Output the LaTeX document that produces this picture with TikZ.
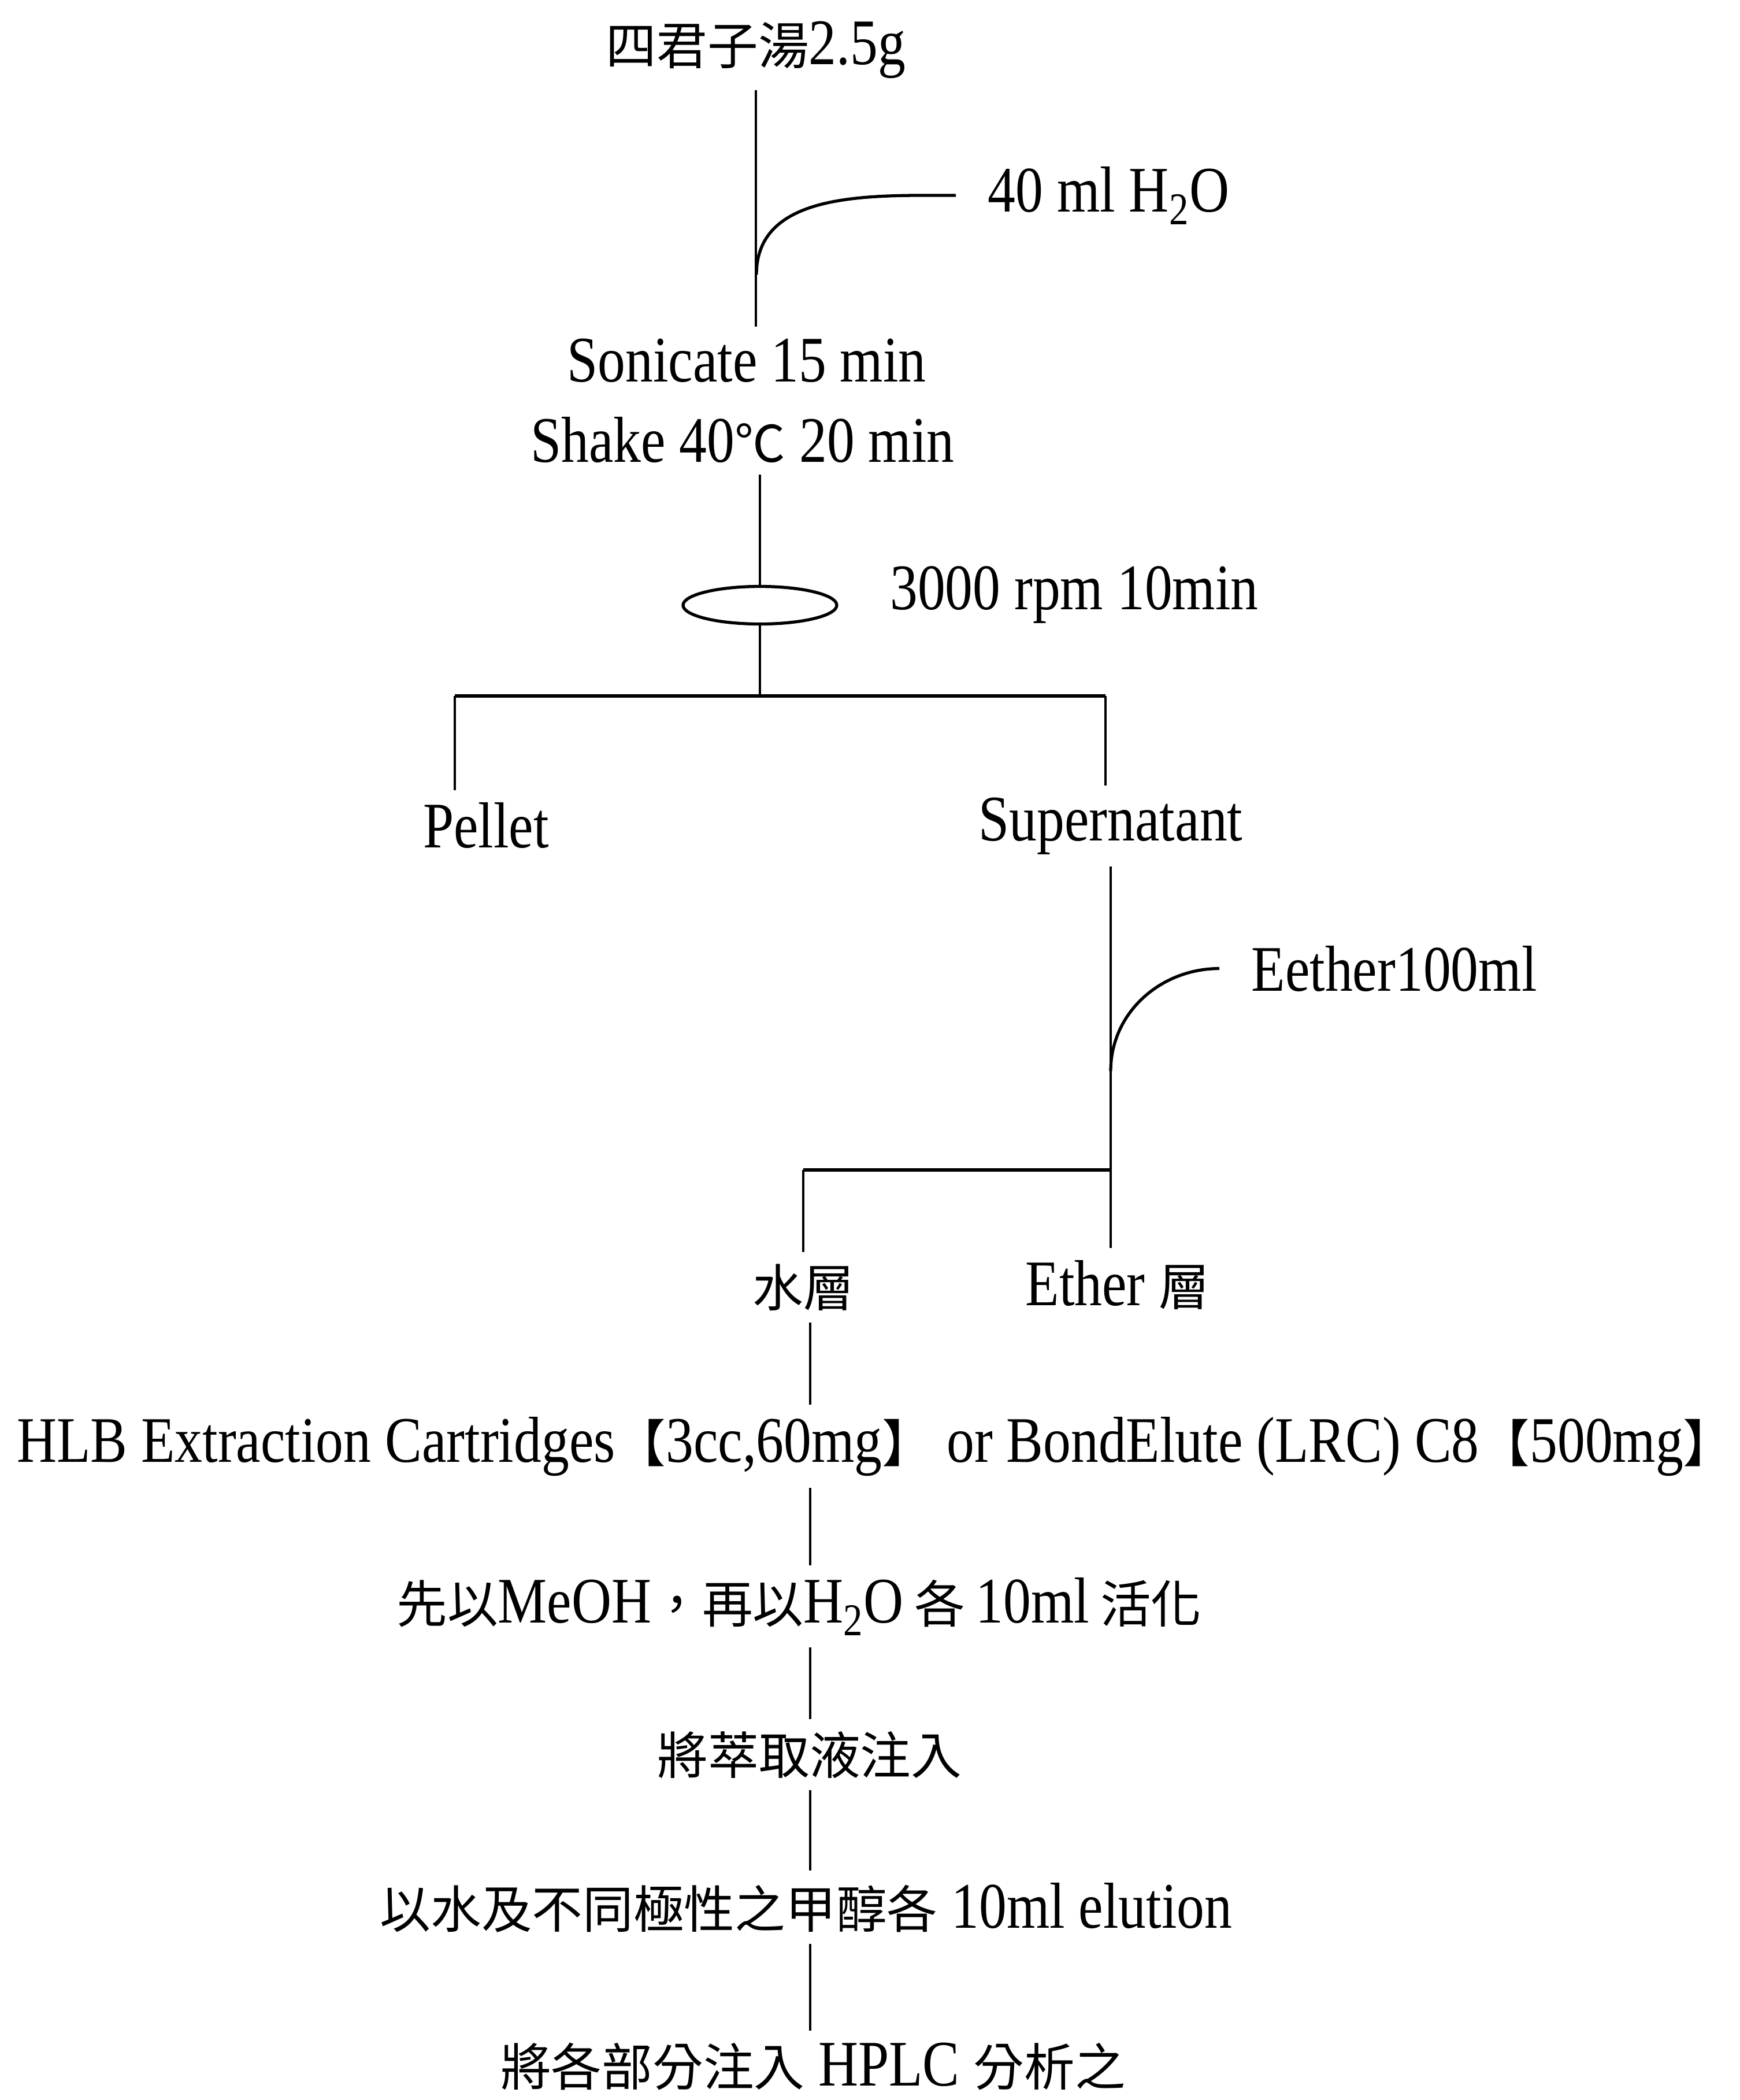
\documentclass[tikz,border=0pt]{standalone}
\usepackage{fontspec}
\usepackage{tikz}
\usetikzlibrary{shapes.geometric}
\setmainfont{Liberation Serif}[FakeStretch=0.85]
\newfontfamily\cjk{Noto Sans CJK TC}[Scale=0.78]

\begin{document}
\begin{tikzpicture}[
    every node/.style={font=\fontsize{32}{38}\selectfont},
    lbl/.style={anchor=base, inner xsep=0pt, inner ysep=0.2cm},
    addlbl/.style={anchor=base west, inner xsep=0.55cm, inner ysep=0pt},
    flow/.style={line width=1.2pt},
    bar/.style={line width=1.8pt},
    feed/.style={line width=1.5pt}]
  \useasboundingbox (0,0) rectangle (30.11,-36.33);

  % extraction
  \node[lbl] (herb) at (13.08,-1.11) {{\cjk 四君子湯}2.5g};
  \node[addlbl] (h2o) at (16.54,-3.66) {40 ml H\textsubscript{2}O};
  \node[lbl] (sonic) at (12.92,-6.60) {Sonicate 15 min};
  \node[lbl] (shake) at (12.85,-7.99) {Shake 40{\cjk ℃} 20 min};
  \coordinate (j1) at (13.09,-4.75);
  \draw[flow] (herb.south) -- (herb.south |- sonic.north);
  \draw[feed] (h2o.west) to[out=180,in=90] (j1);

  % centrifuge
  \node[draw, ellipse, line width=1.5pt, minimum width=2.66cm, minimum height=0.65cm, inner sep=0pt] (cent) at (13.15,-10.47) {};
  \node[lbl] (rpm) at (18.59,-10.54) {3000 rpm 10min};
  \draw[flow] (cent.north) -- (cent.north |- shake.south);

  \node[lbl] (pellet) at (8.41,-14.66) {Pellet};
  \node[lbl] (super) at (19.22,-14.54) {Supernatant};
  \coordinate (split) at (13.15,-12.04);
  \coordinate (barL) at (7.87,-12.04);
  \coordinate (barR) at (19.13,-12.04);
  \draw[flow] (cent.south) -- (split);
  \draw[bar] (barL) -- (barR);
  \draw[flow] (barL) -- (barL |- pellet.north);
  \draw[flow] (barR) -- (barR |- super.north);

  % ether partition
  \node[addlbl] (eth) at (21.10,-17.14) {Eether100ml};
  \node[lbl] (water) at (13.90,-22.60) {{\cjk 水層}};
  \node[lbl] (ethl) at (19.34,-22.58) {Ether {\cjk 層}};
  \coordinate (j2) at (19.22,-18.53);
  \coordinate (bar2L) at (13.90,-20.24);
  \draw[flow] (super.south) -- (super.south |- ethl.north);
  \draw[feed] (eth.west) to[out=180,in=90] (j2);
  \draw[bar] (bar2L) -- (super.south |- bar2L);
  \draw[flow] (bar2L) -- (water.north);

  % solid phase extraction
  \node[lbl] (hlb) at (15.15,-25.29) {HLB Extraction Cartridges{\cjk 【}3cc,60mg{\cjk 】} or BondElute (LRC) C8{\cjk 【}500mg{\cjk 】}};
  \node[lbl] (act) at (13.83,-28.07) {{\cjk 先以}MeOH{\cjk ，再以}H\textsubscript{2}O\,{\cjk 各}\,10ml\,{\cjk 活化}};
  \node[lbl] (inj) at (14.01,-30.69) {{\cjk 將萃取液注入}};
  \node[lbl] (elu) at (13.95,-33.35) {{\cjk 以水及不同極性之甲醇各} 10ml elution};
  \node[lbl] (hplc) at (14.07,-36.08) {{\cjk 將各部分注入} HPLC {\cjk 分析之}};
  \coordinate (spine) at (14.02,0);
  \foreach \a/\b in {water/hlb, hlb/act, act/inj, inj/elu, elu/hplc}
    \draw[flow] (spine |- \a.south) -- (spine |- \b.north);
\end{tikzpicture}
\end{document}
